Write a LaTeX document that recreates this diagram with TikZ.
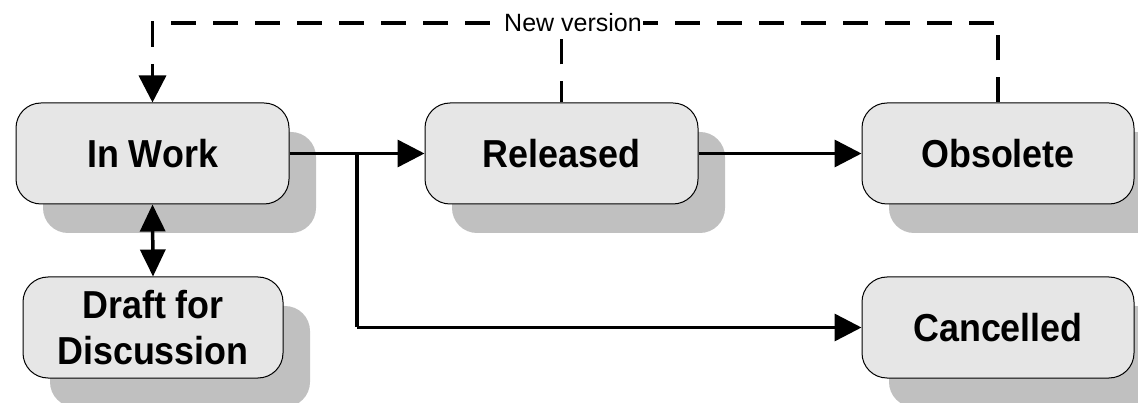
\documentclass[tikz,border=0pt]{standalone}
\usepackage{fontspec}
\setmainfont{Liberation Sans}
\newfontfamily\boxfont[FakeStretch=0.92]{Liberation Sans}
\usetikzlibrary{arrows.meta,shadows}
\definecolor{boxfill}{HTML}{E6E6E6}
\definecolor{shadowfill}{HTML}{C0C0C0}
\begin{document}
\begin{tikzpicture}[x=1pt,y=-1pt,
  state/.style={draw=black, line width=1pt, fill=boxfill, rounded corners=25pt,
    minimum width=273pt, minimum height=101pt, inner sep=0pt, align=center,
    font=\boxfont\fontsize{39}{46}\selectfont\bfseries,
    general shadow={fill=shadowfill, shadow xshift=27pt, shadow yshift=-29pt}},
  conn/.style={line width=3.5pt, -{Triangle[length=27pt,width=27pt]}},
  plainline/.style={line width=3.5pt},
  dashline/.style={line width=3.5pt, dash pattern=on 25pt off 17pt},
  lbl/.style={fill=white, inner sep=1pt, font=\fontsize{25}{28}\selectfont}
]
\useasboundingbox (0,0) rectangle (1138,403);
\node[state] (inwork) at (152.5,153.5) {In Work};
\node[state] (released) at (561.5,153.5) {Released};
\node[state, minimum width=272pt] (obsolete) at (998,153.5) {Obsolete};
\node[state, minimum width=260pt] (draft) at (153,327.5) {Draft for\\Discussion};
\node[state, minimum width=272pt] (cancelled) at (998,327.5) {Cancelled};

\coordinate (j) at (357,153.5);
\coordinate (jc) at (357,327.5);
\coordinate (ctop) at (152.5,23);
\coordinate (otop) at (998,23);
\coordinate (rtop) at (561.5,23);

\draw[conn] (inwork.east) -- (released.west);
\draw[conn] (released.east) -- (obsolete.west);
\draw[plainline] (j) -- (jc);
\draw[conn] (jc) -- (cancelled.west);
\draw[line width=3.5pt, {Triangle[length=27pt,width=25pt]}-{Triangle[length=27pt,width=25pt]}] (inwork.south) -- (draft.north);
\draw[dashline, -{Triangle[length=27pt,width=27pt]}] (obsolete.north) -- (otop) -- (ctop) -- (inwork.north);
\draw[dashline, dash phase=4pt] (released.north) -- (rtop);
\node[lbl] (nv) at (573,23) {New version};
\end{tikzpicture}
\end{document}
